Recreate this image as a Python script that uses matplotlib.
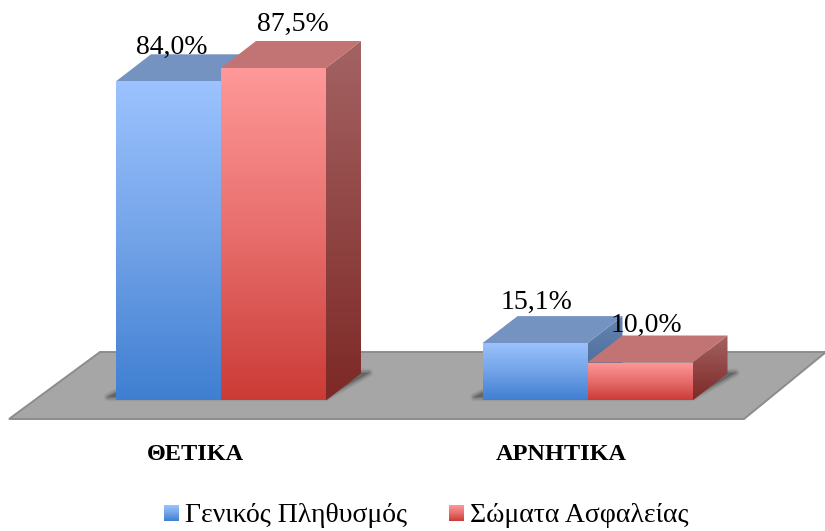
import numpy as np
import matplotlib
matplotlib.use('Agg')
import matplotlib.pyplot as plt
from matplotlib.colors import LinearSegmentedColormap
from matplotlib.patches import Polygon

categories = ['ΘΕΤΙΚΑ', 'ΑΡΝΗΤΙΚΑ']
series_names = ['Γενικός Πληθυσμός', 'Σώματα Ασφαλείας']
general_pop = [84.0, 15.1]
security = [87.5, 10.0]
value_labels = [['84,0%', '15,1%'], ['87,5%', '10,0%']]

# pixel layout of the reference
W, H = 825, 531
PX_X0, PX_PER_CAT = 221.0, 366.5
PX_Y0, PX_PER_PCT = 400.5, 3.8
BAR_W = 105 / PX_PER_CAT
DX = 35 / PX_PER_CAT
DY = 27 / PX_PER_PCT


def xp(px):
    return (px - PX_X0) / PX_PER_CAT


def yp(py):
    return (PX_Y0 - py) / PX_PER_PCT


plt.rcParams['font.family'] = ['Liberation Serif', 'DejaVu Serif']

blue_front = LinearSegmentedColormap.from_list('bf', ['#9CC3FF', '#73A3E8', '#3F7FD1'])
red_front = LinearSegmentedColormap.from_list('rf', ['#FF9999', '#E76E6C', '#CB3B36'])
blue_side = LinearSegmentedColormap.from_list('bs', ['#6583AE', '#3F6496'])
red_side = LinearSegmentedColormap.from_list('rs', ['#A46363', '#7D2926'])
blue_top = '#7593C1'
red_top = '#C27474'

fig = plt.figure(figsize=(W / 100, H / 100), dpi=100)
ax = fig.add_axes([0, 0, 1, 1])
ax.set_xlim(xp(0), xp(W))
ax.set_ylim(yp(H), yp(0))
ax.set_autoscale_on(False)
ax.axis('off')


def grad(cmap, x0, x1, y0, y1, clip, z):
    g = np.linspace(0, 1, 256).reshape(-1, 1)
    im = ax.imshow(g, cmap=cmap, extent=[x0, x1, y0, y1], origin='upper',
                   aspect='auto', zorder=z)
    poly = Polygon(clip, closed=True, transform=ax.transData, fc='none', ec='none')
    ax.add_patch(poly)
    im.set_clip_path(poly)


# floor
floor = [(xp(9), yp(419)), (xp(744), yp(419)), (xp(826), yp(352)), (xp(100), yp(352))]
ax.add_patch(Polygon(floor, closed=True, fc='#A6A6A6', ec='#8C8C8C', lw=1.4, zorder=1))

# shadows under each group
for i in range(len(categories)):
    x0 = i - BAR_W
    x1 = i + BAR_W
    shadow = [(x0 - 8 / PX_PER_CAT, 0.9), (x1, 0.9), (x1 + DX + 8 / PX_PER_CAT, DY + 0.2),
              (x1, DY), (x1, 2), (x0, 2)]
    for lw, a in [(6, 0.10), (4, 0.16), (2, 0.24)]:
        ax.add_patch(Polygon(shadow, closed=True, fc='#444444', ec='#444444', lw=lw,
                             alpha=a, zorder=2, joinstyle='round'))


def draw_bar(x0, val, front, side, top, z):
    x1 = x0 + BAR_W
    grad(side, x1, x1 + DX, 0, val + DY,
         [(x1, 0), (x1 + DX, DY), (x1 + DX, val + DY), (x1, val)], z)
    ax.add_patch(Polygon([(x0, val), (x1, val), (x1 + DX, val + DY), (x0 + DX, val + DY)],
                         closed=True, fc=top, ec='none', zorder=z))
    grad(front, x0, x1, 0, val, [(x0, 0), (x1, 0), (x1, val), (x0, val)], z + 0.5)


for i in range(len(categories)):
    draw_bar(i - BAR_W, general_pop[i], blue_front, blue_side, blue_top, 3)
    draw_bar(i, security[i], red_front, red_side, red_top, 4)

# value labels, nudged the way the reference has them
nudges = [[(3, 34), (2, 41)], [(19, 44), (6, 37)]]
for s, vals in enumerate([general_pop, security]):
    for i, v in enumerate(vals):
        nx, ny = nudges[s][i]
        cx = i + (s - 1) * BAR_W + BAR_W / 2 + nx / PX_PER_CAT
        ax.text(cx, v + ny / PX_PER_PCT, value_labels[s][i], ha='center', va='center',
                fontsize=20, color='black', zorder=6)

# category labels
for i, c in enumerate(categories):
    ax.text(i - 26 / PX_PER_CAT, yp(454), c, ha='center', va='center',
            fontsize=17.5, fontweight='bold', color='black', zorder=6)

# legend
swatches = [(164, blue_front), (449, red_front)]
for (sx, cm), name in zip(swatches, series_names):
    grad(cm, xp(sx), xp(sx + 15), yp(521), yp(505),
         [(xp(sx), yp(521)), (xp(sx + 15), yp(521)), (xp(sx + 15), yp(505)), (xp(sx), yp(505))], 6)
    ax.text(xp(sx + 21), yp(515), name, ha='left', va='center', fontsize=20,
            color='black', zorder=6)

plt.savefig('out.png', dpi=100)
